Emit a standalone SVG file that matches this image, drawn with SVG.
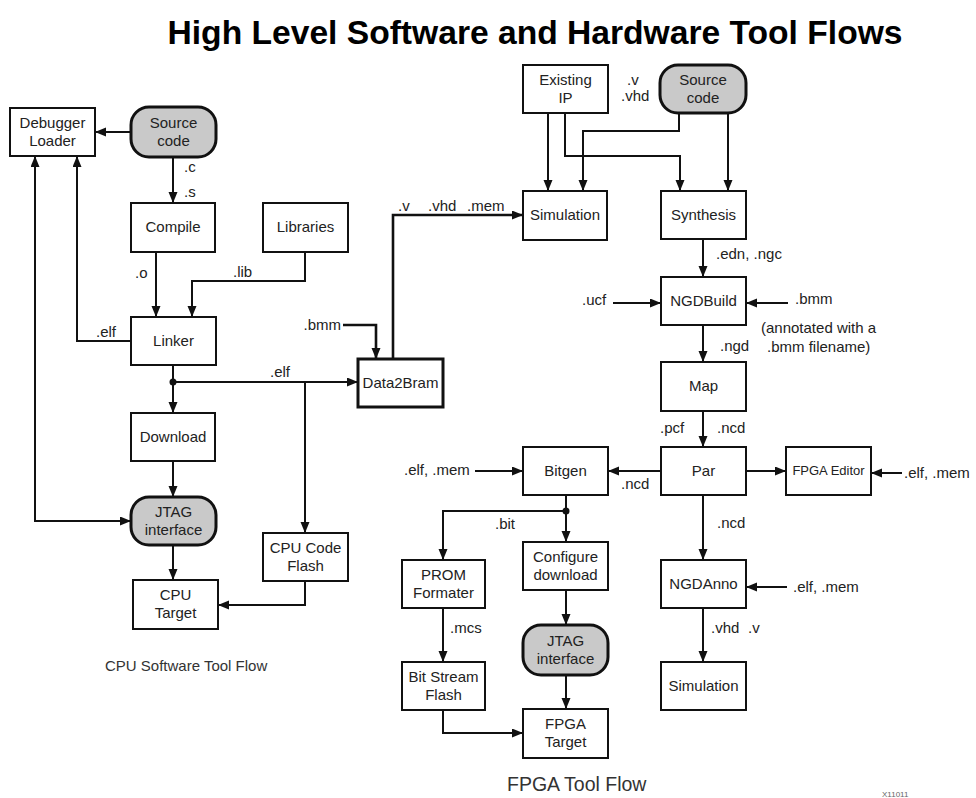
<svg xmlns="http://www.w3.org/2000/svg" width="976" height="798" viewBox="0 0 976 798">
<style>
  .box{fill:#fff;stroke:#111;stroke-width:2}
  .bold{fill:#fff;stroke:#111;stroke-width:3}
  .term{fill:#c9c9c9;stroke:#111;stroke-width:3}
  .t{font-family:"Liberation Sans",Arial,sans-serif;font-size:15px;fill:#222;text-anchor:middle}
  .small{font-size:13px}
  .lbl{font-family:"Liberation Sans",Arial,sans-serif;font-size:15px;fill:#222}
  .c{fill:none;stroke:#111;stroke-width:2;marker-end:url(#ah)}
  .thick{stroke-width:2.6}
</style>
<defs>
  <marker id="ah" markerUnits="userSpaceOnUse" markerWidth="12" markerHeight="10" refX="11" refY="4.5" orient="auto-start-reverse">
    <path d="M0,0 L11,4.5 L0,9 z" fill="#111"/>
  </marker>
</defs>
<rect width="976" height="798" fill="#fff"/>
<text x="535" y="44" font-family="'Liberation Sans',Arial,sans-serif" font-size="33" font-weight="bold" fill="#000" text-anchor="middle" textLength="735" lengthAdjust="spacingAndGlyphs">High Level Software and Hardware Tool Flows</text>

<g id="connectors">
  <path class="c" d="M131,132 H95"/>
  <path class="c" d="M173,157 V203"/>
  <path class="c" d="M156,252 V317"/>
  <path class="c" d="M305,252 V281 H192 V317"/>
  <path class="c" d="M131,341 H77 V156"/>
  <path class="c" d="M173,365 V413"/>
  <path class="c" d="M173,382 H358"/>
  <path class="c" d="M305,382 V533"/>
  <circle cx="173" cy="382" r="3.5" fill="#111"/>
  <path class="c" d="M173,461 V497"/>
  <path class="c" d="M131,521 H35 V156" style="marker-start:url(#ah)"/>
  <path class="c" d="M173,545 V580"/>
  <path class="c" d="M305,581 V605 H218"/>
  <path class="c thick" d="M343,325 H376 V359"/>
  <path class="c thick" d="M393,359 V215 H523"/>
  <path class="c" d="M548,113 V191"/>
  <path class="c" d="M565,113 V156 H680 V191"/>
  <path class="c" d="M679,113 V131 H583 V191"/>
  <path class="c" d="M728,113 V191"/>
  <path class="c" d="M703,239 V277"/>
  <path class="c" d="M613,303 H661"/>
  <path class="c" d="M788,303 H746"/>
  <path class="c" d="M703,325 V362"/>
  <path class="c" d="M703,411 V447"/>
  <path class="c" d="M661,471 H608"/>
  <path class="c" d="M746,471 H786"/>
  <path class="c" d="M902,473 H871"/>
  <path class="c" d="M475,471 H523"/>
  <path class="c" d="M566,495 V542"/>
  <circle cx="566" cy="511" r="3.5" fill="#111"/>
  <path class="c" d="M566,511 H443 V560"/>
  <path class="c" d="M443,608 V662"/>
  <path class="c" d="M443,710 V733 H523"/>
  <path class="c" d="M566,590 V625"/>
  <path class="c" d="M566,675 V709"/>
  <path class="c" d="M703,495 V560"/>
  <path class="c" d="M787,587 H746"/>
  <path class="c" d="M703,608 V662"/>
</g>

<g id="labels" class="lbl">
  <text x="184" y="172">.c</text>
  <text x="184" y="197">.s</text>
  <text x="135" y="278">.o</text>
  <text x="233" y="277">.lib</text>
  <text x="96" y="337">.elf</text>
  <text x="270" y="377">.elf</text>
  <text x="341" y="330" text-anchor="end">.bmm</text>
  <text x="398" y="211">.v</text>
  <text x="428" y="211">.vhd</text>
  <text x="467" y="211">.mem</text>
  <text x="627" y="85">.v</text>
  <text x="621" y="101">.vhd</text>
  <text x="716" y="259">.edn, .ngc</text>
  <text x="582" y="305">.ucf</text>
  <text x="795" y="304">.bmm</text>
  <text x="761" y="333">(annotated with a</text>
  <text x="767" y="352">.bmm filename)</text>
  <text x="720" y="351">.ngd</text>
  <text x="660" y="433">.pcf</text>
  <text x="717" y="433">.ncd</text>
  <text x="621" y="489">.ncd</text>
  <text x="404" y="475">.elf, .mem</text>
  <text x="904" y="478">.elf, .mem</text>
  <text x="717" y="528">.ncd</text>
  <text x="793" y="592">.elf, .mem</text>
  <text x="711" y="633">.vhd</text>
  <text x="748" y="633">.v</text>
  <text x="495" y="529">.bit</text>
  <text x="450" y="633">.mcs</text>
  <text x="105" y="671" fill="#333">CPU Software Tool Flow</text>
  <text x="507" y="791" font-size="19.5" fill="#333">FPGA Tool Flow</text>
  <text x="882" y="797" font-size="8" fill="#666">X11011</text>
</g>

<g id="debugger"><rect class="box" x="10" y="108" width="85" height="48"/><text class="t" x="52.5" y="128">Debugger</text><text class="t" x="52.5" y="146">Loader</text></g>
<g id="source-code-cpu"><rect class="term" x="131" y="107" width="85" height="50" rx="18"/><text class="t" x="173.5" y="128">Source</text><text class="t" x="173.5" y="146">code</text></g>
<g id="compile"><rect class="box" x="131" y="203" width="84" height="49"/><text class="t" x="173" y="232">Compile</text></g>
<g id="libraries"><rect class="box" x="263" y="203" width="85" height="49"/><text class="t" x="305.5" y="232">Libraries</text></g>
<g id="linker"><rect class="box" x="131" y="317" width="85" height="48"/><text class="t" x="173.5" y="346">Linker</text></g>
<g id="download"><rect class="box" x="131" y="413" width="84" height="48"/><text class="t" x="173" y="442">Download</text></g>
<g id="jtag-cpu"><rect class="term" x="131" y="497" width="85" height="48" rx="18"/><text class="t" x="173.5" y="517">JTAG</text><text class="t" x="173.5" y="535">interface</text></g>
<g id="cpu-target"><rect class="box" x="133" y="580" width="85" height="49"/><text class="t" x="175.5" y="600">CPU</text><text class="t" x="175.5" y="618">Target</text></g>
<g id="cpu-code-flash"><rect class="box" x="263" y="533" width="85" height="48"/><text class="t" x="305.5" y="553">CPU Code</text><text class="t" x="305.5" y="571">Flash</text></g>
<g id="data2bram"><rect class="bold" x="358" y="359" width="85" height="48"/><text class="t" x="400.5" y="388">Data2Bram</text></g>

<g id="existing-ip"><rect class="box" x="523" y="65" width="85" height="48"/><text class="t" x="565.5" y="85">Existing</text><text class="t" x="565.5" y="103">IP</text></g>
<g id="source-code-fpga"><rect class="term" x="660" y="65" width="86" height="48" rx="18"/><text class="t" x="703" y="85">Source</text><text class="t" x="703" y="103">code</text></g>
<g id="simulation-1"><rect class="box" x="523" y="191" width="84" height="49"/><text class="t" x="565" y="220">Simulation</text></g>
<g id="synthesis"><rect class="box" x="661" y="191" width="85" height="48"/><text class="t" x="703.5" y="220">Synthesis</text></g>
<g id="ngdbuild"><rect class="box" x="661" y="277" width="85" height="48"/><text class="t" x="703.5" y="306">NGDBuild</text></g>
<g id="map"><rect class="box" x="661" y="362" width="85" height="49"/><text class="t" x="703.5" y="391">Map</text></g>
<g id="par"><rect class="box" x="661" y="447" width="85" height="48"/><text class="t" x="703.5" y="476">Par</text></g>
<g id="fpga-editor"><rect class="box" x="786" y="447" width="85" height="48"/><text class="t small" x="828.5" y="475">FPGA Editor</text></g>
<g id="bitgen"><rect class="box" x="523" y="447" width="85" height="48"/><text class="t" x="565.5" y="476">Bitgen</text></g>
<g id="configure-download"><rect class="box" x="523" y="542" width="85" height="48"/><text class="t" x="565.5" y="562">Configure</text><text class="t" x="565.5" y="580">download</text></g>
<g id="prom-formater"><rect class="box" x="402" y="560" width="83" height="48"/><text class="t" x="443.5" y="580">PROM</text><text class="t" x="443.5" y="598">Formater</text></g>
<g id="bit-stream-flash"><rect class="box" x="402" y="662" width="83" height="48"/><text class="t" x="443.5" y="682">Bit Stream</text><text class="t" x="443.5" y="700">Flash</text></g>
<g id="jtag-fpga"><rect class="term" x="523" y="625" width="85" height="50" rx="18"/><text class="t" x="565.5" y="646">JTAG</text><text class="t" x="565.5" y="664">interface</text></g>
<g id="fpga-target"><rect class="box" x="523" y="709" width="85" height="49"/><text class="t" x="565.5" y="729">FPGA</text><text class="t" x="565.5" y="747">Target</text></g>
<g id="ngdanno"><rect class="box" x="661" y="560" width="85" height="48"/><text class="t" x="703.5" y="589">NGDAnno</text></g>
<g id="simulation-2"><rect class="box" x="661" y="662" width="85" height="48"/><text class="t" x="703.5" y="691">Simulation</text></g>
</svg>
